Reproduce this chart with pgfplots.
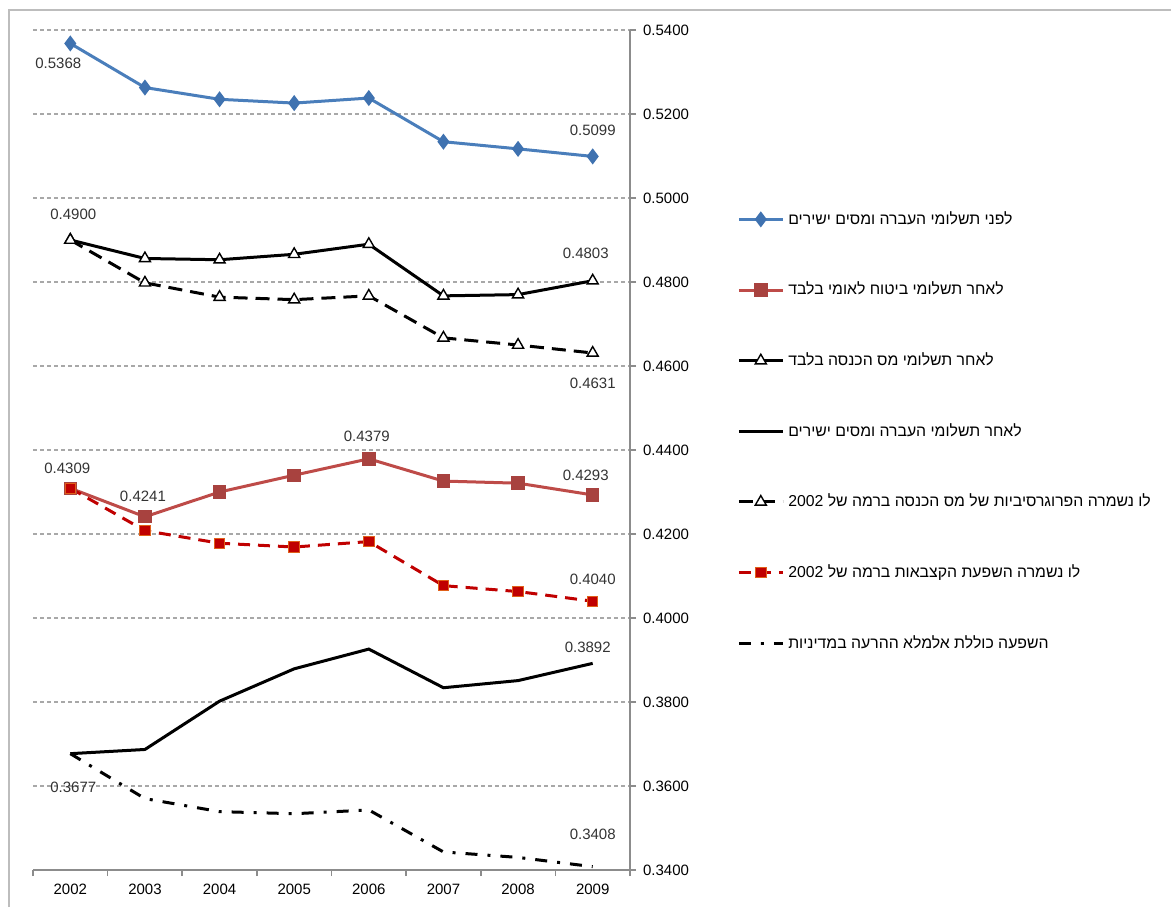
\documentclass[border=0pt]{standalone}
\usepackage{pgfplots}
\pgfplotsset{compat=1.18}
\usepackage{fontspec}
\setmainfont{Liberation Sans}
\newfontfamily\hebfont[Script=Hebrew]{Liberation Sans}
\TeXXeTstate=1
\newcommand\heb[1]{{\hebfont\beginR #1\endR}}

\definecolor{lineblue}{HTML}{4A7EBB}
\definecolor{markblue}{HTML}{3F72B0}
\definecolor{linered}{HTML}{BE4B48}
\definecolor{markred}{HTML}{A8423F}
\definecolor{deepred}{HTML}{C00000}
\definecolor{deeprededge}{HTML}{E0601A}
\definecolor{axgray}{HTML}{8C8C8C}
\definecolor{gridgray}{HTML}{A8A8A8}
\definecolor{framegray}{HTML}{BDBDBD}
\definecolor{labeltext}{HTML}{333333}

\pgfplotstableread{
year  before  nionly  taxonly  after   progr   benef   total
2002  0.5368  0.4309  0.4900   0.3677  0.4900  0.4309  0.3677
2003  0.5263  0.4241  0.4856   0.3687  0.4798  0.4208  0.3570
2004  0.5235  0.4300  0.4853   0.3802  0.4764  0.4178  0.3539
2005  0.5226  0.4340  0.4866   0.3879  0.4758  0.4169  0.3534
2006  0.5238  0.4379  0.4890   0.3926  0.4767  0.4182  0.3543
2007  0.5134  0.4326  0.4767   0.3834  0.4667  0.4077  0.3443
2008  0.5117  0.4321  0.4770   0.3851  0.4650  0.4063  0.3430
2009  0.5099  0.4293  0.4803   0.3892  0.4631  0.4040  0.3408
}\gini

\begin{document}
\begin{tikzpicture}[x=1pt,y=1pt]
\useasboundingbox (0,0) rectangle (585.5,453.5);
\draw[framegray, line width=1pt] (4.5,0) -- (4.5,448.5) -- (585.5,448.5);
\begin{axis}[
  at={(16.5pt,18.5pt)}, anchor=south west,
  scale only axis, width=298.5pt, height=420pt,
  xmin=2001.5, xmax=2009.5, ymin=0.34, ymax=0.54,
  axis x line*=bottom, axis y line*=right,
  axis line style={-, draw=axgray, line width=0.8pt},
  font=\fontsize{7.5}{9}\selectfont,
  /pgf/number format/assume math mode=true,
  xtick={2001.5,2002.5,...,2009.5},
  xticklabels={},
  extra x ticks={2002,2003,2004,2005,2006,2007,2008,2009},
  extra x tick labels={2002,2003,2004,2005,2006,2007,2008,2009},
  extra x tick style={major tick length=0pt, grid=none},
  xticklabel style={yshift=-3.5pt},
  ytick={0.34,0.36,...,0.545},
  yticklabel={\pgfmathprintnumber[fixed, fixed zerofill, precision=4]{\tick}},
  tick align=outside,
  major tick length=3pt,
  tick style={draw=axgray, line width=0.8pt},
  ymajorgrids,
  grid style={gridgray, dash pattern=on 2pt off 1.5pt, line width=0.6pt},
  legend cell align=left,
  legend style={at={(axis description cs:1.169,0.794)}, anchor=north west,
    draw=none, fill=none, row sep=23.4pt,
    font=\fontsize{7.9}{9}\selectfont, text=black},
  legend image code/.code={\draw[mark repeat=2,mark phase=2,#1]
    plot coordinates {(0pt,0pt) (11pt,0pt) (22pt,0pt)};},
  clip=false,
]
\addplot[lineblue, line width=1.5pt, mark=diamond*, mark size=2.8pt,
  mark options={fill=markblue, draw=markblue}] table[x=year,y=before]{\gini};
\addlegendentry{\heb{לפני תשלומי העברה ומסים ישירים}}
\addplot[linered, line width=1.5pt, mark=square*, mark size=2.6pt,
  mark options={fill=markred, draw=markred}] table[x=year,y=nionly]{\gini};
\addlegendentry{\heb{לאחר תשלומי ביטוח לאומי בלבד}}
\addplot[black, line width=1.5pt, mark=triangle*, mark size=3.2pt,
  mark options={fill=white, draw=black, line width=0.7pt}] table[x=year,y=taxonly]{\gini};
\addlegendentry{\heb{לאחר תשלומי מס הכנסה בלבד}}
\addplot[black, line width=1.5pt] table[x=year,y=after]{\gini};
\addlegendentry{\heb{לאחר תשלומי העברה ומסים ישירים}}
\addplot[black, line width=1.5pt, dash pattern=on 7pt off 4pt, mark=triangle*, mark size=3.2pt,
  mark options={solid, fill=white, draw=black, line width=0.7pt}] table[x=year,y=progr]{\gini};
\addlegendentry{\heb{לו נשמרה הפרוגרסיביות של מס הכנסה ברמה של \beginL 2002\endL}}
\addplot[deepred, line width=1.5pt, dash pattern=on 6pt off 4pt, mark=square*, mark size=2.6pt,
  mark options={solid, fill=deepred, draw=deeprededge, line width=0.5pt}] table[x=year,y=benef]{\gini};
\addlegendentry{\heb{לו נשמרה השפעת הקצבאות ברמה של \beginL 2002\endL}}
\addplot[black, line width=1.5pt, dash pattern=on 6pt off 5pt on 1.5pt off 5pt] table[x=year,y=total]{\gini};
\addlegendentry{\heb{השפעה כוללת אלמלא ההרעה במדיניות}}

% value labels
\begin{scope}[every node/.style={font=\fontsize{7.5}{9}\selectfont, text=labeltext}]
\node at (axis cs:2002,0.5368) [xshift=-6pt, yshift=-10pt] {0.5368};
\node at (axis cs:2009,0.5099) [yshift=13pt] {0.5099};
\node at (axis cs:2002,0.4900) [xshift=1.5pt, yshift=13pt] {0.4900};
\node at (axis cs:2009,0.4803) [xshift=-3.5pt, yshift=13.5pt] {0.4803};
\node at (axis cs:2009,0.4631) [yshift=-15pt] {0.4631};
\node at (axis cs:2006,0.4379) [xshift=-1pt, yshift=11pt] {0.4379};
\node at (axis cs:2002,0.4309) [xshift=-1.5pt, yshift=10pt] {0.4309};
\node at (axis cs:2003,0.4241) [xshift=-1pt, yshift=10pt] {0.4241};
\node at (axis cs:2009,0.4293) [xshift=-3.5pt, yshift=10pt] {0.4293};
\node at (axis cs:2009,0.4040) [yshift=11pt] {0.4040};
\node at (axis cs:2009,0.3892) [xshift=-2.5pt, yshift=8pt] {0.3892};
\node at (axis cs:2002,0.3677) [xshift=1.5pt, yshift=-17pt] {0.3677};
\node at (axis cs:2009,0.3408) [yshift=16pt] {0.3408};
\end{scope}
\end{axis}
\end{tikzpicture}
\end{document}
